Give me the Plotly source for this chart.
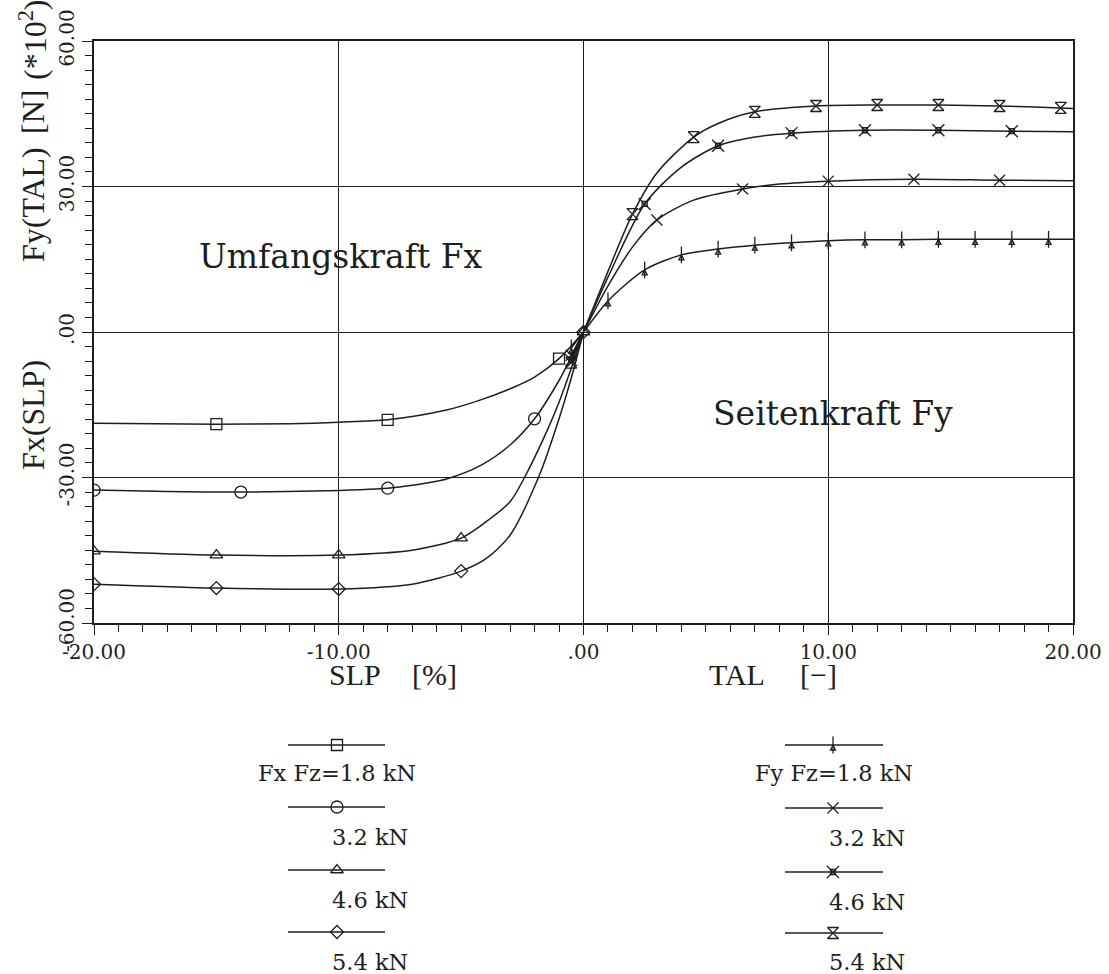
import plotly.graph_objects as go

# ---------------- data ----------------
# Fx(SLP): x = slip [%], y = Fx [N *10^2]
fx18_x = [-20, -15, -12, -10, -8, -5.6, -4.2, -2.9, -2, -1, 0]
fx18_y = [-18.8, -19.0, -18.9, -18.6, -18.1, -16.1, -14.0, -11.5, -9.3, -5.5, 0]
fx18_mk = [-15, -8, -1]

fx32_x = [-20, -17, -14, -11, -8, -7, -5.6, -4.2, -3, -2, -1, -0.5, 0]
fx32_y = [-32.6, -32.9, -33.0, -32.8, -32.2, -31.6, -30.3, -27.5, -23.3, -17.9, -10.0, -5.2, 0]
fx32_mk = [-20, -14, -8, -2]

fx46_x = [-20, -15, -10, -7, -5, -4, -3, -2.4, -1.5, -1, -0.5, 0]
fx46_y = [-45.2, -46.0, -46.0, -45.0, -42.5, -39.2, -35.0, -29.9, -20.5, -14.5, -7.5, 0]
fx46_mk = [-20, -15, -10, -5, 0]

fx54_x = [-20, -15, -10, -7, -5, -4, -3, -1.8, -1, -0.5, 0]
fx54_y = [-52.0, -52.8, -53.0, -52.0, -49.3, -46.8, -41.9, -29.5, -17.9, -9.5, 0]
fx54_mk = [-20, -15, -10, -5, 0]

# Fy(TAL): x = TAL [-], y = Fy [N *10^2]
fy18_x = [-0.5, 0, 1, 2.5, 4, 5.5, 7, 8.5, 10, 11.5, 13, 14.5, 16, 17.5, 19, 20]
fy18_y = [-3.3, 0, 6.4, 12.8, 15.9, 17.1, 17.9, 18.4, 18.8, 19.0, 19.0, 19.1, 19.1, 19.1, 19.1, 19.1]
fy18_mk = [-0.5, 1, 2.5, 4, 5.5, 7, 8.5, 10, 11.5, 13, 14.5, 16, 17.5, 19]

fy32_x = [-0.5, 0, 1, 2, 3, 4.5, 6.5, 8, 10, 13.5, 17, 20]
fy32_y = [-4.8, 0, 9.5, 17.5, 23.1, 27.2, 29.5, 30.5, 31.1, 31.5, 31.3, 31.2]
fy32_mk = [-0.5, 3, 6.5, 10, 13.5, 17]

fy46_x = [-0.5, 0, 1, 2.5, 4, 5.5, 7, 8.5, 11.5, 14.5, 17.5, 20]
fy46_y = [-5.8, 0, 11.3, 26.4, 34.0, 38.4, 40.2, 41.0, 41.6, 41.6, 41.4, 41.3]
fy46_mk = [-0.5, 2.5, 5.5, 8.5, 11.5, 14.5, 17.5]

fy54_x = [-0.5, 0, 1, 2, 3, 4.5, 5.5, 7, 9.5, 12, 14.5, 17, 19.5, 20]
fy54_y = [-6.3, 0, 12.5, 24.3, 32.8, 40.2, 43.0, 45.4, 46.6, 46.8, 46.8, 46.6, 46.2, 46.1]
fy54_mk = [-0.5, 2, 4.5, 7, 9.5, 12, 14.5, 17, 19.5]

x_tickvals = [-20, -10, 0, 10, 20]
x_ticktext = ["-20.00", "-10.00", ".00", "10.00", "20.00"]
y_tickvals = [-60, -30, 0, 30, 60]
y_ticktext = ["-60.00", "-30.00", ".00", "30.00", "60.00"]

fx_labels = ["Fx Fz=1.8 kN", "3.2 kN", "4.6 kN", "5.4 kN"]
fy_labels = ["Fy Fz=1.8 kN", "3.2 kN", "4.6 kN", "5.4 kN"]

# ---------------- styling ----------------
W, H = 1109, 974
INK = "#1e1e1e"
SERIF = "DejaVu Serif"
TALL = "Liberation Serif"

fig = go.Figure()

series = [
    (fx18_x, fx18_y, fx18_mk, [("square-open", 11)]),
    (fx32_x, fx32_y, fx32_mk, [("circle-open", 12)]),
    (fx46_x, fx46_y, fx46_mk, [("triangle-up-open", 11)]),
    (fx54_x, fx54_y, fx54_mk, [("diamond-open", 10)]),
    (fy18_x, fy18_y, fy18_mk, [("line-ns-open", 12), ("arrow-up-open", 5)]),
    (fy32_x, fy32_y, fy32_mk, [("x-thin-open", 11)]),
    (fy46_x, fy46_y, fy46_mk, [("x-thin-open", 12), ("square-open", 5)]),
    (fy54_x, fy54_y, fy54_mk, [("hourglass-open", 11)]),
]

for xs, ys, mk, syms in series:
    fig.add_trace(go.Scatter(x=xs, y=ys, mode="lines",
                             line=dict(color=INK, width=1.5, shape="spline", smoothing=0.8),
                             showlegend=False, hoverinfo="skip"))
    my = [ys[xs.index(v)] for v in mk]
    for sym, sz in syms:
        fig.add_trace(go.Scatter(x=mk, y=my, mode="markers",
                                 marker=dict(symbol=sym, size=sz, color=INK,
                                             line=dict(color=INK, width=1.3)),
                                 showlegend=False, hoverinfo="skip"))

# ---------------- hand-drawn legend on a pixel-space overlay axis ----------------
leg_left = dict(x0=288, x1=385, xm=337, rows=[745, 807, 870, 932],
                tx=[337, 370, 370, 370], ty=[773, 837, 900, 962])
leg_right = dict(x0=785, x1=883, xm=833, rows=[745, 808, 872, 933],
                 tx=[834, 867, 867, 867], ty=[773, 838, 902, 962])

annotations = []
for col, idx0, labels in [(leg_left, 0, fx_labels), (leg_right, 4, fy_labels)]:
    for i, ry in enumerate(col["rows"]):
        fig.add_trace(go.Scatter(x=[col["x0"], col["x1"]], y=[ry, ry], mode="lines",
                                 line=dict(color=INK, width=1.5), xaxis="x2", yaxis="y2",
                                 showlegend=False, hoverinfo="skip"))
        for sym, sz in series[idx0 + i][3]:
            fig.add_trace(go.Scatter(x=[col["xm"]], y=[ry], mode="markers",
                                     marker=dict(symbol=sym, size=sz, color=INK,
                                                 line=dict(color=INK, width=1.3)),
                                     xaxis="x2", yaxis="y2", showlegend=False, hoverinfo="skip"))
        annotations.append(dict(x=col["tx"][i], y=col["ty"][i], xref="x2", yref="y2",
                                text=labels[i], showarrow=False,
                                font=dict(family=SERIF, size=22.5, color=INK)))

# text labels in plot and axis titles
def ann(x, y, text, size, family, angle=0):
    annotations.append(dict(x=x, y=y, xref="x2", yref="y2", text=text, showarrow=False,
                            textangle=angle, font=dict(family=family, size=size, color=INK)))

ann(341, 256, "Umfangskraft Fx", 33, SERIF)
ann(833, 413, "Seitenkraft Fy", 33, SERIF)
ann(355, 674, "SLP", 30, TALL)
ann(434, 674, "[%]", 30, TALL)
ann(737, 674, "TAL", 30, TALL)
ann(818, 674, "[−]", 30, TALL)
ann(33, 415, "Fx(SLP)", 32, TALL, -90)
ann(33, 205, "Fy(TAL)", 32, TALL, -90)
ann(33, 112, "[N]", 32, TALL, -90)
ann(33, 40, "(*10<sup>2</sup>)", 32, TALL, -90)

axis_common = dict(showline=True, mirror=True, linecolor=INK, linewidth=1.6,
                   showgrid=True, gridcolor=INK, gridwidth=1.3, zeroline=False,
                   automargin=False,
                   ticks="outside", ticklen=10, tickwidth=1.3, tickcolor=INK,
                   tickfont=dict(family=SERIF, size=20, color=INK))

fig.update_layout(
    template="none",
    width=W, height=H, autosize=False,
    margin=dict(l=0, r=0, t=0, b=0, pad=0),
    paper_bgcolor="white", plot_bgcolor="rgba(0,0,0,0)",
    showlegend=False,
    xaxis=dict(domain=[94 / W, 1073 / W], range=[-20, 20], anchor="y",
               tickvals=x_tickvals, ticktext=x_ticktext,
               minor=dict(dtick=1, tick0=0, ticks="outside", ticklen=7, tickwidth=1.2,
                          tickcolor=INK, showgrid=False),
               **axis_common),
    yaxis=dict(domain=[1 - 623 / H, 1 - 41 / H], range=[-60, 60], anchor="x",
               tickvals=y_tickvals, ticktext=y_ticktext, tickangle=-90,
               minor=dict(dtick=3, tick0=0, ticks="outside", ticklen=7, tickwidth=1.2,
                          tickcolor=INK, showgrid=False),
               **axis_common),
    xaxis2=dict(domain=[0, 1], range=[0, W], visible=False, anchor="y2",
                fixedrange=True, automargin=False),
    yaxis2=dict(domain=[0, 1], range=[H, 0], visible=False, anchor="x2",
                fixedrange=True, automargin=False),
    annotations=annotations,
)

fig.write_html("out.html",
               config={"displayModeBar": False},
               post_script="document.body.style.margin='0px';document.body.style.overflow='hidden';")
